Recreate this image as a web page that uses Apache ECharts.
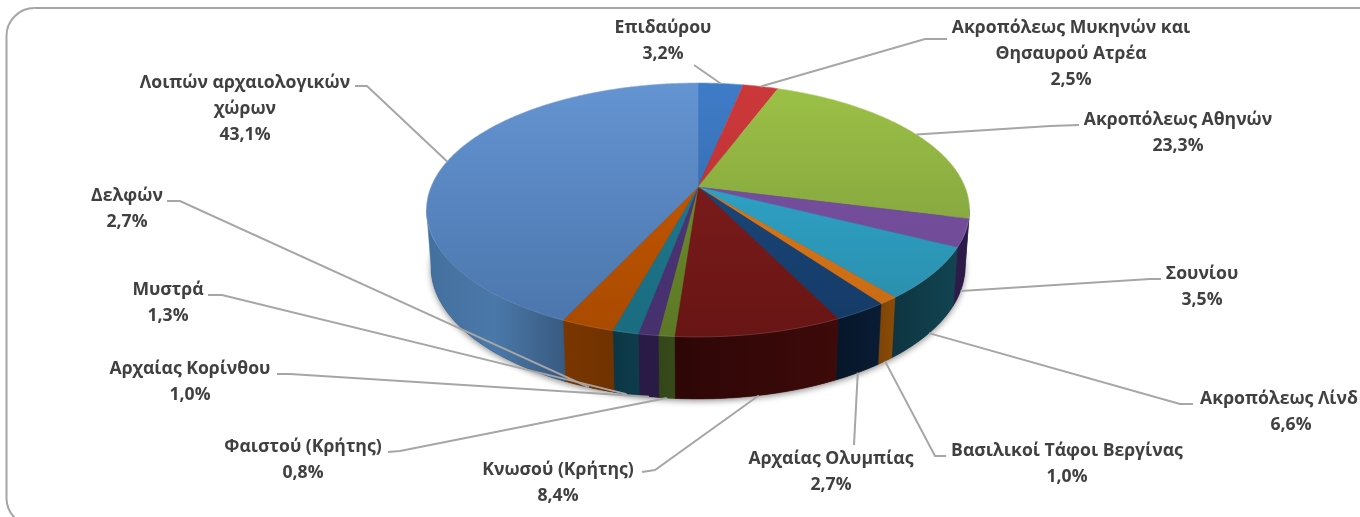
<!DOCTYPE html>
<html>
<head>
<meta charset="utf-8">
<style>html,body{margin:0;padding:0;background:#fff;overflow:hidden}#c{width:1360px;height:517px}</style>
<script src="https://cdn.jsdelivr.net/npm/echarts@6/dist/echarts.min.js"></script>
</head>
<body>
<div id="c"></div>
<script>
// ---- data ----
const names = ['Επιδαύρου','Ακροπόλεως Μυκηνών και\nΘησαυρού Ατρέα','Ακροπόλεως Αθηνών','Σουνίου','Ακροπόλεως Λίνδ','Βασιλικοί Τάφοι Βεργίνας','Αρχαίας Ολυμπίας','Κνωσού (Κρήτης)','Φαιστού (Κρήτης)','Αρχαίας Κορίνθου','Μυστρά','Δελφών','Λοιπών αρχαιολογικών\nχώρων'];
const values = [3.2,2.5,23.3,3.5,6.6,1.0,2.7,8.4,0.8,1.0,1.3,2.7,43.1];
// ---- styles ----
const topColors = [['#3f7cc8','#2c609c'],['#cc383a','#b22f33'],['#9cc146','#76953a'],['#7c52a6','#6a4890'],['#30b0d6','#2a8aa8'],['#e87c18','#c66a14'],['#1e4c84','#143a66'],['#861e1e','#681515'],['#76962e','#5c7826'],['#50367a','#46306e'],['#207c94','#1a6c80'],['#d05c00','#a84a00'],['#6494d2','#4a74aa']];
const wallColors = [['#24446c','#24446c'],['#6c1a1c','#6c1a1c'],['#2e1c4c','#2e1c4c'],['#2e1c4c','#2a1a46'],['#0e3440','#124452'],['#7c4406','#8c4c08'],['#06162a','#0a1c34'],['#2e0606','#3e0a0a'],['#324618','#364a1a'],['#2a1a46','#2a1a46'],['#0c3644','#0e3c4c'],['#7a3600','#703200'],['#44709f','#4a78a8','#385a80']];
// ---- label layout: block centre [x, y], percent x, elbow next to the text [x, y], text-side line end [x, y] ----
const labelCentres = [[663,41],[1071,54],[1178,133],[1202,287],[1279,412],[1067,464],[831,472],[558,483],[303,460],[190,382],[168,303],[127,209],[245,109]];
const percentCentreX = [663,1071,1178,1202,1291,1067,831,558,303,190,168,127,245];
const lineEnds = [[694,65],[947,39],[1079,125],[1161,279],[1193,404],[946,456],[854,445],[642,472],[388,452],[277,374],[208,295],[167,201],[355,86]];
const lineElbows = [[694,65],[925,39],[1050,126],[1150,279],[1180,404],[935,456],[854,445],[655,470],[400,451],[290,374],[222,295],[180,201],[367,86]];

// ---- perspective geometry of the two discs ----
const cx = 698, k = 0.181;
const topDisc = {a: 267, b: 122.8, cy: 187};
const botDisc = {a: 262.6, b: 127.7, cy: 243};
const yTop = 83, yFront = 337;
const lineH = 26;
function proj(d, deg) {
  const t = deg * Math.PI / 180, s = Math.sin(t), c = Math.cos(t), w = 1 + k * c;
  return [cx + d.a * s / w, d.cy - d.b * c / w];
}
function arc(d, from, to) {
  const n = Math.max(2, Math.ceil(Math.abs(to - from) * 2)), p = [];
  for (let i = 0; i <= n; i++) p.push(proj(d, from + (to - from) * i / n));
  return p;
}
const total = values.reduce((a, b) => a + b, 0);
const starts = []; let run = 0;
values.forEach(v => { starts.push(run); run += v; });
const angStart = i => starts[i] / total * 360;
const angEnd = i => (starts[i] + values[i]) / total * 360;
const pct = v => v.toFixed(1).replace('.', ',') + '%';
const G = () => echarts.graphic;

function renderBase() {
  return {type: 'polygon', shape: {points: arc(botDisc, 0, 360)},
    style: {fill: '#333', shadowBlur: 6, shadowColor: 'rgba(0,0,0,0.45)', shadowOffsetX: 0, shadowOffsetY: 2}};
}
function renderWall(params) {
  const i = params.dataIndex;
  const from = Math.max(angStart(i), 100), to = Math.min(angEnd(i), 260);
  if (to <= from) return {type: 'group', children: []};
  const t = arc(topDisc, from, to), b = arc(botDisc, from, to).reverse();
  const xs = t.concat(b).map(p => p[0]);
  const cols = wallColors[i];
  const fill = new (G().LinearGradient)(Math.min(...xs), 0, Math.max(...xs), 0,
    cols.map((c, j) => ({offset: j / (cols.length - 1), color: c})), true);
  return {type: 'polygon', shape: {points: t.concat(b)}, style: {fill, stroke: fill, lineWidth: 0.5}};
}
function renderTop(params) {
  const i = params.dataIndex, a = arc(topDisc, angStart(i), angEnd(i));
  const fill = new (G().LinearGradient)(0, yTop, 0, yFront,
    [{offset: 0, color: topColors[i][0]}, {offset: 1, color: topColors[i][1]}], true);
  return {type: 'group', children: [
    {type: 'polygon', shape: {points: [[cx, topDisc.cy]].concat(a)}, style: {fill, stroke: fill, lineWidth: 0.5}},
    {type: 'polyline', shape: {points: a}, style: {fill: 'none', stroke: 'rgba(255,255,255,0.12)', lineWidth: 1}}
  ]};
}
function renderLabel(params) {
  const i = params.dataIndex, mid = (angStart(i) + angEnd(i)) / 2;
  const onFront = Math.cos(mid * Math.PI / 180) < 0;
  const anchor = proj(onFront ? botDisc : topDisc, mid);
  const nameLines = names[i].split('\n').length;
  const blockH = (nameLines + 1) * lineH, top = labelCentres[i][1] - blockH / 2;
  const textStyle = {fill: '#404040', font: 'bold 17.6px "Open Sans", "Noto Sans", sans-serif',
    align: 'center', verticalAlign: 'middle', lineHeight: lineH};
  return {type: 'group', children: [
    {type: 'polyline', shape: {points: [lineEnds[i], lineElbows[i], anchor]},
      style: {fill: 'none', stroke: '#a6a6a6', lineWidth: 2}},
    {type: 'text', x: labelCentres[i][0], y: top + nameLines * lineH / 2,
      style: Object.assign({text: names[i]}, textStyle)},
    {type: 'text', x: percentCentreX[i], y: top + (nameLines + 0.5) * lineH,
      style: Object.assign({text: pct(values[i])}, textStyle)}
  ]};
}
const chart = echarts.init(document.getElementById('c'), null, {renderer: 'canvas'});
const common = {type: 'custom', coordinateSystem: 'none', silent: true, animation: false, clip: false};
chart.setOption({
  animation: false,
  graphic: [{type: 'rect', silent: true, z: -10,
    shape: {x: 6.5, y: 8, width: 1420, height: 518, r: 28},
    style: {fill: 'none', stroke: '#a6a6a6', lineWidth: 2}}],
  series: [
    Object.assign({}, common, {name: 'base', z: 1, data: [total], renderItem: renderBase}),
    Object.assign({}, common, {name: 'walls', z: 2, data: values, renderItem: renderWall}),
    Object.assign({}, common, {name: 'tops', z: 3, data: values, renderItem: renderTop}),
    Object.assign({}, common, {name: 'labels', z: 4, data: values, renderItem: renderLabel})
  ]
});
</script>
</body>
</html>
